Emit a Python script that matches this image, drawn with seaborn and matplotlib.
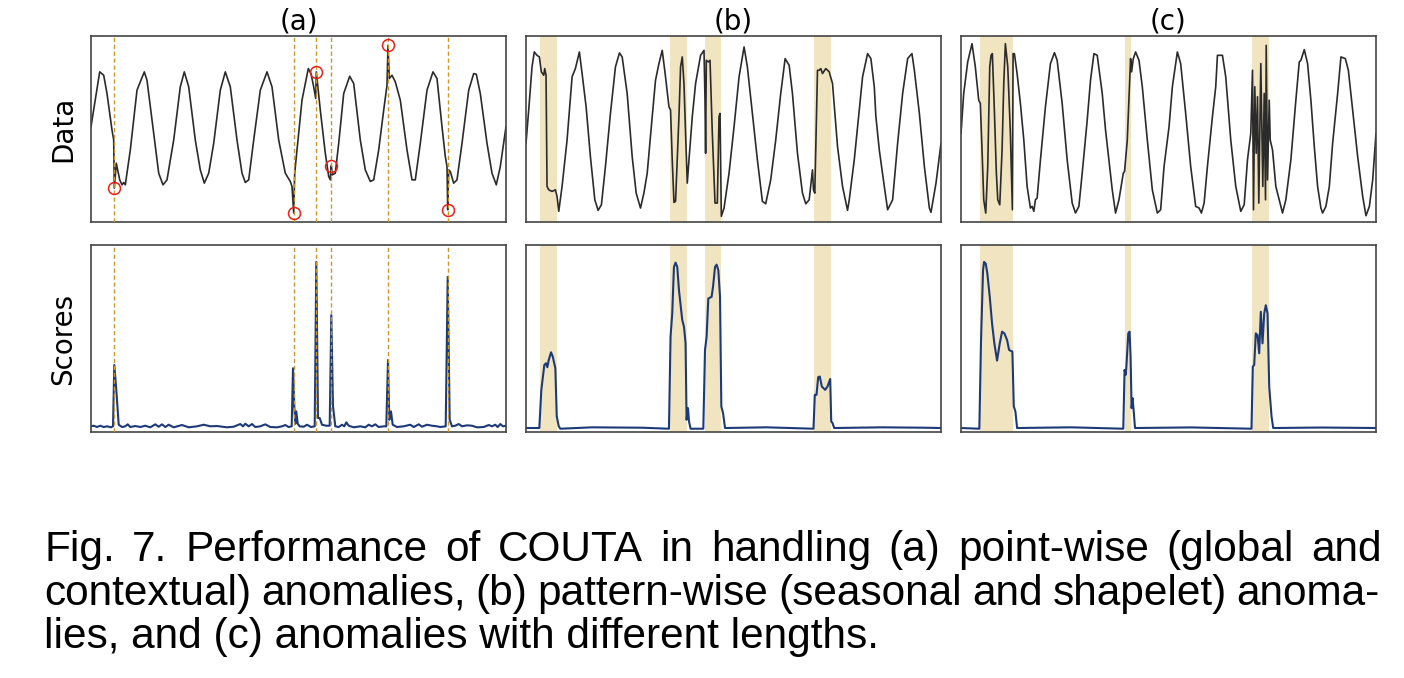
import numpy as np
import pandas as pd
import seaborn as sns
import matplotlib.pyplot as plt

# (a) point-wise anomalies: raw series
a_t = [0, 8.7, 12.7, 16, 21, 22.7, 23.3, 25.3, 28.7, 31, 32.7, 34.3, 39.3, 46, 49.3, 53.3, 56, 62.7, 67.7, 72,
       76, 82.7, 89.3, 93.3, 97.7, 104.3, 109.3, 113.3, 117.7, 122.7, 129.3, 134.3, 139.3, 146, 151, 154.3,
       157.7, 162.7, 169.3, 176, 181, 187.7, 194.3, 199.3, 201, 202.7, 203.7, 206, 211, 217.3, 220, 222.7,
       224.7, 225.3, 229.3, 234.3, 237.7, 239.3, 240.3, 241.3, 244.3, 247.7, 252.7, 258.7, 262.7, 269.3,
       274.3, 279.3, 282.7, 287.7, 292.7, 296, 297, 298.3, 301, 304.3, 309.3, 316, 321, 324.3, 329.3, 336,
       342, 346, 351, 354.3, 356, 356.7, 357.7, 359.3, 362.7, 366, 371, 377.7, 382.7, 385.3, 389.3, 396, 401,
       405.3, 409.3, 415]
a_v = [95.7, 150.7, 147.3, 129, 92.3, 82.3, 34, 59, 42.3, 37.3, 39.7, 37.3, 72.3, 132.3, 140.7, 150.7, 142.3,
       89, 49, 37.3, 42.3, 82.3, 135.7, 150.7, 135.7, 82.3, 52.3, 39, 49, 79, 132.3, 150.7, 135.7, 82.3, 49,
       39.7, 42.3, 82.3, 132.3, 150.7, 135.7, 82.3, 49, 40.7, 35.7, 9, 49, 72.3, 122.3, 154, 149, 135.7, 124,
       150.7, 112.3, 69, 45.7, 42.3, 56.7, 47.3, 49, 79, 129, 146.3, 139, 82.3, 52.3, 40.7, 42.3, 72.3, 112.3,
       137.3, 177.3, 144, 147.3, 140.7, 122.3, 72.3, 42.3, 42.3, 79, 132.3, 150.7, 144, 95.7, 65.7, 55.7,
       12.3, 52.3, 50.7, 39, 42.3, 79, 132.3, 149, 148.3, 129, 79, 49, 37.3, 55.7, 95.7]
a_anom_t = [23.3, 202.7, 225.3, 240.3, 297, 356.7]
a_anom_v = [34, 9, 150.7, 56.7, 177.3, 12.3]

# (a) anomaly scores
a_st = [0, 2.7, 6, 9.3, 12.7, 16, 20, 22, 23.3, 25.3, 27.7, 31, 34.3, 36.7, 39.3, 44.3, 49.3, 54.3, 59.3, 64.3,
        67.7, 71, 74.3, 77.7, 82.7, 91, 97.7, 106, 112.7, 119.3, 126, 136, 142.7, 149.3, 152, 154.3, 157.7,
        161, 164.3, 169.3, 174.3, 179.3, 186, 191, 194.3, 197.7, 200.7, 202, 203.3, 204.3, 205.3, 206.7,
        208.7, 212.7, 216, 220, 223.7, 225.3, 227, 228.7, 231, 235.3, 238.7, 240.3, 242, 244.3, 247.7, 251,
        253.3, 255.3, 257.7, 262.7, 269.3, 274.3, 277.7, 281, 284.3, 287.7, 292.7, 295.3, 297, 298.3, 300,
        301.7, 306, 312.7, 319.3, 322.7, 327.7, 331, 336, 341, 346, 349.3, 354.7, 356.7, 358.7, 361, 364.3,
        367.7, 371, 376, 381, 386, 392.7, 397.7, 401, 404.3, 406.7, 409.3, 412, 415]
a_sv = [5.7, 6.3, 5, 6.3, 5, 5.7, 4.7, 5.7, 67.3, 42.3, 7.3, 5, 5.7, 7.7, 5, 6, 5, 6.3, 4.7, 7.7, 5.3, 7.7, 5,
        7.3, 4.7, 7, 4.7, 5.7, 7.3, 5.7, 6, 4.7, 5.3, 8, 5.7, 8.3, 5.7, 8, 5, 5.7, 7.7, 5, 4.7, 5.7, 7, 5,
        5.7, 64, 25.7, 8.3, 20.7, 8.3, 5.7, 5.3, 7.3, 5, 5.7, 170.7, 14, 14, 7.3, 6.3, 6.3, 117.3, 25.7, 5.7,
        5, 7.3, 5.7, 9.7, 6.3, 4.7, 5.7, 4.7, 7.3, 5.7, 7.7, 5, 5.7, 5.7, 72.3, 12.3, 20.7, 7.3, 5, 5.7, 7.3,
        5, 7.7, 5.3, 7.3, 6.3, 5.7, 5, 5.7, 155.7, 12.3, 5.7, 6.3, 8, 5.7, 6.7, 6.3, 4.7, 5, 7, 5.7, 7.3, 5,
        8, 5.7, 6.3]

# (b) pattern-wise anomalies
b_t = [0, 2.7, 6, 8.3, 11, 13.3, 15.3, 17.7, 18.7, 20, 21, 22.7, 26, 29.3, 31, 32.7, 36, 41, 46, 49.3, 53.3,
       56, 60, 64.3, 68.7, 72, 75.3, 79.3, 84.3, 89.3, 93.3, 96, 101, 106, 110, 114.3, 117.7, 121, 126,
       129.3, 132.7, 136, 139.3, 142.7, 144.3, 146, 147.7, 149.3, 152.7, 154.3, 156, 157.7, 159.3, 161,
       162.7, 166, 169.3, 174.3, 177.7, 178.7, 179.3, 180, 182, 183.7, 186, 188.7, 191, 192.7, 193.7, 195,
       197.7, 202.7, 207.7, 212.7, 217.7, 221, 226, 231, 236, 239.3, 244.3, 249.3, 254.3, 258.7, 262.7, 266,
       271, 276, 279.3, 282.7, 286, 287, 288.3, 291, 292.7, 294.3, 296, 299.3, 302.7, 306, 311, 316, 321,
       322.7, 327.7, 332.7, 336, 341, 344.3, 347.7, 349.3, 352.7, 357.7, 361, 366, 371, 376, 381, 383.7,
       385.3, 387.7, 392.7, 397.7, 402.7, 404.3, 409.3, 414.3]
b_v = [79, 112.3, 155.7, 170.7, 167.3, 165.7, 150.7, 147.3, 154, 147.3, 35.7, 32.3, 30.7, 32.3, 25.7, 10.7,
       35.7, 82.3, 145.7, 154, 170.7, 149, 115.7, 65.7, 22.3, 11.7, 17.3, 55.7, 109, 155.7, 169.7, 165.7,
       129, 65.7, 29, 14, 29, 49, 105.7, 142.3, 159, 172.3, 145.7, 115.7, 112.3, 62.3, 19.7, 20.7, 105.7,
       155.7, 165.7, 139, 89, 39, 62.3, 105.7, 139, 167.3, 172.3, 122.3, 69, 162.3, 160.7, 162.3, 89, 19,
       19, 105.7, 109, 5.7, 14, 49, 95.7, 145.7, 175.7, 155.7, 109, 62.3, 20.7, 18.3, 42.3, 82.3, 129, 164,
       157.3, 129, 69, 29, 18.3, 22.3, 52.3, 32.3, 29, 152.3, 152.3, 154, 149, 154, 150.7, 139, 75.7, 35.7,
       11.7, 22.3, 62.3, 112.3, 145.7, 169, 164, 135.7, 105.7, 72.3, 35.7, 12.3, 22.3, 79, 129, 164, 167.3,
       169, 152.3, 109, 55.7, 14, 9.7, 39, 79]
b_st = [0, 13.3, 15.3, 18.3, 20, 21.3, 22.7, 25, 26.7, 29.3, 30.7, 32.7, 34.3, 66, 116, 142.7, 144.3, 146,
        147.7, 149.3, 151, 152.7, 156, 157.7, 159.3, 160.3, 161.7, 162.7, 164.3, 177, 178.7, 180.3, 182,
        185.3, 186.7, 188.7, 190.3, 192, 193.7, 195, 196.7, 198.7, 240, 287, 288.3, 290, 291.7, 293.3, 295.3,
        298.7, 301, 303.7, 304.7, 306, 307.7, 356, 398, 414.3]
b_sv = [4, 4, 42.3, 67.3, 69, 65, 72.3, 80, 75.7, 64, 15.7, 5.7, 3.3, 4.7, 4.3, 3.3, 95.7, 119, 165.7, 170,
        165.7, 142.3, 112.3, 105.7, 89, 12.3, 24, 10.7, 3.3, 3.3, 82.3, 95.7, 134, 135.7, 145.7, 165.7, 168,
        162.3, 135.7, 25.7, 19, 4, 4.7, 3.3, 37.3, 37.3, 55, 55.7, 45.7, 42.3, 45.7, 53.3, 10.7, 9, 4, 4.7,
        4.3, 4]
b_spans = [(14.3, 30.7), (143.3, 160.3), (178.3, 195), (287.3, 304.3)]

# (c) anomalies of different lengths
c_t = [0, 2.7, 6.7, 11, 14.3, 17.7, 19.3, 21, 22.7, 24.7, 26.7, 28.7, 30, 31.3, 33.3, 35.3, 36.7, 38.7, 41,
       42.7, 44.3, 46.7, 49.3, 51.3, 52, 53.3, 56, 59.3, 62.7, 66, 69.3, 71, 72.7, 74.3, 76, 79.3, 84.3,
       89.3, 93.3, 96, 101, 106, 111, 114.3, 117.7, 121, 126, 129.3, 132.7, 136, 141, 144.3, 147.7, 151,
       154.3, 157.7, 162, 163.3, 166, 168.3, 169.3, 170.3, 172, 174.3, 177.7, 181, 186, 191, 196, 199.3,
       202.7, 207.7, 211, 216, 219.3, 224.3, 229.3, 234.3, 237.7, 240, 242.7, 246, 251, 254.3, 256, 261,
       264.3, 269.3, 274.3, 279.3, 282.7, 286, 289.3, 291, 292, 293.3, 294.7, 296, 297.3, 299.3, 301.3,
       302.7, 304, 304.7, 306, 307.7, 308.7, 311, 314.3, 319.3, 321, 324.3, 329.3, 334.3, 337.7, 339.3,
       342.7, 346, 349.3, 352.7, 356, 359.3, 361, 364.3, 367.7, 371, 376, 379.3, 383.7, 386.7, 391, 396,
       401, 404.3, 407.7, 411, 414.3]
c_v = [89, 129, 160.7, 179, 155.7, 122.3, 119, 72.3, 22.3, 9, 55.7, 155.7, 167.3, 169, 112.3, 49, 22.3, 17.3,
       72.3, 139, 179, 155.7, 89, 12.3, 169, 169, 149, 119, 82.3, 35.7, 14, 15.7, 10.7, 22.3, 24, 62.3,
       115.7, 159, 170, 162.3, 119, 62.3, 19, 9, 15.7, 49, 102.3, 142.3, 169, 167.3, 129, 92.3, 62.3, 32.3,
       9, 22.3, 49, 50.7, 82.3, 139, 164, 150.7, 164, 170.7, 162.3, 135.7, 82.3, 32.3, 9, 12.3, 55.7, 95.7,
       135.7, 170.7, 159, 109, 55.7, 15.7, 14, 9, 19, 55.7, 105.7, 135.7, 167.3, 167.3, 145.7, 82.3, 35.7,
       10.7, 17.3, 62.3, 89, 152.3, 12.3, 135.7, 69, 125.7, 19, 159, 35.7, 129, 22.3, 177.3, 42.3, 122.3,
       82.3, 72.3, 35.7, 15.7, 9, 22.3, 62.3, 122.3, 160.7, 162.3, 173, 159, 122.3, 75.7, 35.7, 14, 9, 15.7,
       35.7, 79, 129, 165.7, 164, 152.3, 112.3, 65.7, 25.7, 6.3, 15.7, 42.3, 89]
c_st = [0, 18.3, 20, 22, 23, 24.7, 26.3, 28.7, 31, 33.3, 36, 38.7, 41, 43.3, 46, 48, 51.3, 52.7, 54.3, 56, 110,
        162, 163.3, 164.3, 165, 167, 168.3, 169.3, 170.3, 171.3, 172.3, 173.7, 230, 290, 291.3, 292.7, 294.3,
        296, 297.7, 299.3, 301, 302.7, 304.3, 306, 307.7, 310, 311.7, 360, 414.3]
c_sv = [4, 3.3, 92.3, 162.3, 170.7, 169, 159, 135.7, 109, 89, 71.7, 89, 100.7, 99, 92.3, 82.3, 80.7, 25.7,
        20.7, 4, 4.7, 3.3, 62.3, 57.3, 64, 99, 100.7, 75.7, 24, 34, 22.3, 4, 4.6, 3.3, 65.7, 67.3, 99, 97.3,
        79, 120.7, 89, 119, 127.3, 119, 45.7, 15.7, 4, 4.5, 4]
c_spans = [(19.3, 52), (163.3, 169.7), (290.7, 307)]

titles = ["(a)", "(b)", "(c)"]
caption_lines = [
    "Fig. 7. Performance of COUTA in handling (a) point-wise (global and",
    "contextual) anomalies, (b) pattern-wise (seasonal and shapelet) anoma-",
    "lies, and (c) anomalies with different lengths.",
]

sns.set_style("white")
plt.rcParams["font.family"] = ["DejaVu Sans"]
plt.rcParams["text.color"] = "black"
plt.rcParams["axes.labelcolor"] = "black"

data_color = "#2b2b2b"
score_color = "#1d3a78"
span_color = "#f1e4c1"
vline_color = "#c8962a"

fig = plt.figure(figsize=(14.04, 6.78), dpi=100)
W, H = 1404, 678
lefts = [91, 526, 961]
axw = 415
top_row = (36, 222)
bot_row = (245, 432)


def make_ax(left, row):
    y0, y1 = row
    return fig.add_axes([left / W, 1 - y1 / H, axw / W, (y1 - y0) / H])


series = [
    (a_t, a_v, a_st, a_sv, [], 415),
    (b_t, b_v, b_st, b_sv, b_spans, 414.3),
    (c_t, c_v, c_st, c_sv, c_spans, 414.3),
]

for i, (t, v, st, sv, spans, xmax) in enumerate(series):
    ax_top = make_ax(lefts[i], top_row)
    ax_bot = make_ax(lefts[i], bot_row)

    for ax in (ax_top, ax_bot):
        for s0, s1 in spans:
            ax.axvspan(s0, s1, color=span_color, lw=0, zorder=0)

    df_top = pd.DataFrame({"t": t, "v": v})
    df_bot = pd.DataFrame({"t": st, "v": sv})
    sns.lineplot(data=df_top, x="t", y="v", ax=ax_top, color=data_color, lw=1.2,
                 sort=False, estimator=None, zorder=2)
    sns.lineplot(data=df_bot, x="t", y="v", ax=ax_bot, color=score_color, lw=1.5,
                 sort=False, estimator=None, zorder=2)

    if i == 0:
        for ax in (ax_top, ax_bot):
            for x in a_anom_t:
                ax.axvline(x, color=vline_color, lw=1.0, ls=(0, (3, 2)), zorder=3)
        ax_top.plot(a_anom_t, a_anom_v, "o", mfc="none", mec="#e8201a", ms=8.6, mew=1.1, zorder=4)
        ax_top.set_ylabel("Data", fontsize=20, labelpad=10, color="black")
        ax_bot.set_ylabel("Scores", fontsize=20, labelpad=10, color="black")
    else:
        ax_top.set_ylabel("")
        ax_bot.set_ylabel("")

    ax_top.set_title(titles[i], fontsize=20, pad=5, color="black")
    ax_top.set_ylim(0, 186.7)
    ax_bot.set_ylim(0, 187.7)
    for ax in (ax_top, ax_bot):
        ax.set_xlim(0, xmax)
        ax.set_xlabel("")
        ax.set_xticks([])
        ax.set_yticks([])
        for sp in ax.spines.values():
            sp.set_color("#444444")
            sp.set_linewidth(1.2)

# caption, justified like the paper
cap_font = dict(family=["Liberation Sans", "DejaVu Sans"], size=30.5, color="black")
renderer = fig.canvas.get_renderer()
baselines = [561, 605, 648]
right_edges = [1382, 1380, None]
x_left = 44
for line, yb, xr in zip(caption_lines, baselines, right_edges):
    if xr is None:
        fig.text(x_left / W, 1 - yb / H, line, va="baseline", ha="left", **cap_font)
        continue
    words = line.split(" ")
    texts = [fig.text(0, 1 - yb / H, w, va="baseline", ha="left", **cap_font) for w in words]
    widths = [tx.get_window_extent(renderer).width for tx in texts]
    gap = (xr - x_left - sum(widths)) / (len(words) - 1)
    x = x_left
    for tx, w in zip(texts, widths):
        tx.set_x(x / W)
        x += w + gap

fig.savefig("out.png", dpi=100)
